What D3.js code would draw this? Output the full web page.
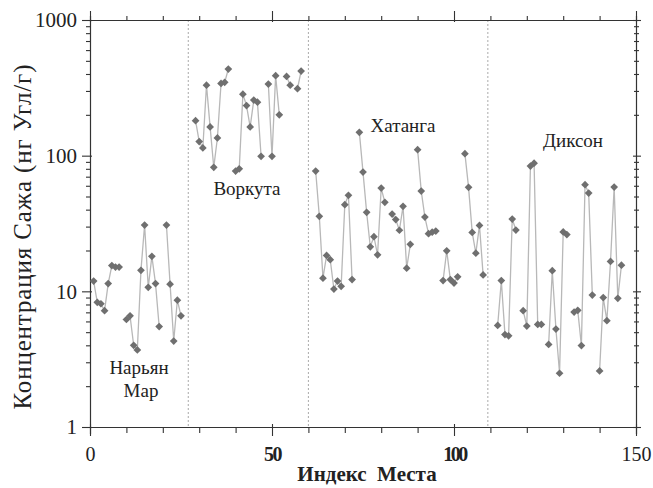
<!DOCTYPE html>
<html><head><meta charset="utf-8">
<script src="https://cdn.jsdelivr.net/npm/d3@7"></script>
<style>
body{margin:0;background:#fff;}
svg{display:block;}
text{font-family:"Liberation Serif","Times New Roman",serif;fill:#222;}
</style></head>
<body><svg id="c" width="653" height="488"></svg>
<script>
// ---- data ----
const naryanIdx = [1,2,3,4,5,6,7,8,10,11,12,13,14,15,16,17,18,19,21,22,23,24,25];
const naryanVal = [11.9,8.3,8.1,7.2,11.4,15.5,15.1,15.1,6.2,6.6,4.0,3.7,14.3,30.8,10.7,18.1,11.4,5.5,30.8,11.3,4.3,8.6,6.6];
const vorkutaIdx = [29,30,31,32,33,34,35,36,37,38,40,41,42,43,44,45,46,47,49,50,51,52,54,55,57,58];
const vorkutaVal = [181,127,114,331,163,82,135,341,347,435,77,80,284,234,163,257,248,99,337,99,389,200,384,331,312,420];
const khatangaIdx = [62,63,64,65,66,67,68,69,70,71,72,74,75,76,77,78,79,80,81,83,84,85,86,87,88,90,91,92,93,94,95,97,98,99,100,101,103,104,105,106,107,108];
const khatangaVal = [77,35.7,12.5,18.4,17.1,10.4,11.9,10.9,43.5,51,12.2,148.6,75.7,38.2,21.3,25.3,18.6,57.7,45.3,37.1,33.8,28.2,42.3,14.8,22.2,110.7,54.8,35.3,26.6,27.3,27.8,12.0,19.9,12.2,11.5,12.8,103.5,58.4,27.2,19.1,30.6,13.2];
const diksonIdx = [112,113,114,115,116,117,119,120,121,122,123,124,126,127,128,129,130,131,133,134,135,136,137,138,140,141,142,143,144,145,146];
const diksonVal = [5.6,12.0,4.8,4.7,34.1,28.3,7.2,5.55,83.8,88.1,5.7,5.7,4.06,14.2,5.27,2.49,27.4,26.2,7.04,7.24,3.98,61.1,53.0,9.39,2.59,9.0,6.08,16.6,58.7,8.88,15.6];
const siteNames = [["Нарьян","Мар"],["Воркута"],["Хатанга"],["Диксон"]];
const separators = [27, 60, 109.3];
const xTickValues = [0,10,20,30,40,50,60,70,80,90,100,110,120,130,140,150];
const xTickLabels = {0:"0",50:"50",100:"100",150:"150"};
const yMajor = [1,10,100,1000];
const xTitle = "Индекс  Места";
const yTitle = "Концентрация Сажа (нг Угл/г)";

const svg = d3.select("#c");
const x = d3.scaleLinear().domain([0,150]).range([90,636]);
const y = d3.scaleLog().domain([1,1000]).range([427,20]);

const yMinor = [];
for (let d=1; d<1000; d*=10) for (let k=2;k<10;k++) yMinor.push(k*d);

// separators
svg.selectAll("line.sep").data(separators).join("line")
  .attr("x1",d=>x(d)).attr("x2",d=>x(d)).attr("y1",y(1000)).attr("y2",y(1))
  .attr("stroke","#aaa").attr("stroke-width",1).attr("stroke-dasharray","2,2");

// axes
function styleAxis(g){ g.select(".domain").attr("stroke","#333").attr("stroke-width",1.2); g.selectAll(".tick line").attr("stroke","#333").attr("stroke-width",1.1); }
const fmtX = d => xTickLabels[d] !== undefined ? xTickLabels[d] : "";
const gB = svg.append("g").attr("transform",`translate(0,${y(1)})`)
  .call(d3.axisBottom(x).tickValues(xTickValues).tickSize(7).tickPadding(13).tickFormat(fmtX));
styleAxis(gB);
gB.selectAll(".tick line").attr("y1",d=>d%50===0?-3:0).attr("y2",d=>d%50===0?9:6);
gB.selectAll(".tick text").attr("font-size",20).attr("fill","#222").attr("font-family","Liberation Serif, serif")
  .attr("font-weight",d=>(d===50||d===100)?"bold":"normal")
  .attr("letter-spacing",d=>d===50?-1.5:(d===100?-2.5:0));

const gT = svg.append("g").attr("transform",`translate(0,${y(1000)})`)
  .call(d3.axisTop(x).tickValues(xTickValues).tickSize(4).tickFormat(""));
styleAxis(gT);
gT.selectAll(".tick line").attr("y1",d=>d%50===0?2:1).attr("y2",d=>d%50===0?-9:-4);

const gL = svg.append("g").attr("transform",`translate(${x(0)},0)`)
  .call(d3.axisLeft(y).tickValues(yMajor).tickSize(8).tickPadding(5).tickFormat(d3.format("d")));
styleAxis(gL);
gL.selectAll(".tick line").attr("x2",-8).attr("x1",2);
gL.selectAll(".tick text").attr("font-size",21).attr("fill","#222").attr("font-family","Liberation Serif, serif");
const gLm = svg.append("g").attr("transform",`translate(${x(0)},0)`)
  .call(d3.axisLeft(y).tickValues(yMinor).tickSize(4).tickFormat(""));
styleAxis(gLm); gLm.select(".domain").remove();
gLm.selectAll(".tick line").attr("x1",1);

const gR = svg.append("g").attr("transform",`translate(${x(150)},0)`)
  .call(d3.axisRight(y).tickValues(yMajor).tickSize(5).tickFormat(""));
styleAxis(gR);
gR.selectAll(".tick line").attr("x1",-3);
const gRm = svg.append("g").attr("transform",`translate(${x(150)},0)`)
  .call(d3.axisRight(y).tickValues(yMinor).tickSize(3).tickFormat(""));
styleAxis(gRm); gRm.select(".domain").remove();
gRm.selectAll(".tick line").attr("x1",-2);

// series
const sites = [[naryanIdx,naryanVal],[vorkutaIdx,vorkutaVal],[khatangaIdx,khatangaVal],[diksonIdx,diksonVal]];
const line = d3.line().x(d=>x(d[0])).y(d=>y(d[1]));
const sym = d3.symbol().type(d3.symbolSquare).size(30);
sites.forEach(([idx,val])=>{
  const pts = idx.map((i,k)=>[i,val[k]]);
  // split into runs of consecutive indices
  const runs = []; let cur = [];
  pts.forEach((p,k)=>{ if(k>0 && p[0]-pts[k-1][0]>1){ runs.push(cur); cur=[]; } cur.push(p); });
  runs.push(cur);
  runs.forEach(r=>{
    svg.append("path").datum(r).attr("d",line).attr("fill","none").attr("stroke","#b8b8b8").attr("stroke-width",1.3);
  });
  svg.append("g").selectAll("path").data(pts).join("path")
    .attr("d",sym).attr("fill","#6f6f6f")
    .attr("transform",d=>`translate(${x(d[0])},${y(d[1])}) rotate(45)`);
});

// site labels
const labelPos = [[139,374],[247,195],[403,132],[573,147]];
siteNames.forEach((lines,k)=>{
  lines.forEach((t,j)=>{
    svg.append("text").attr("x",labelPos[k][0]+(j?2:0)).attr("y",labelPos[k][1]+j*23)
      .attr("text-anchor","middle").attr("font-size",19).text(t);
  });
});

// titles
svg.append("text").attr("x",367).attr("y",481).attr("text-anchor","middle")
  .attr("font-size",21).attr("font-weight","bold").attr("xml:space","preserve").text(xTitle);
svg.append("text").attr("transform","translate(31,237) rotate(-90)").attr("text-anchor","middle")
  .attr("font-size",25).attr("textLength",345).attr("lengthAdjust","spacing").text(yTitle);
</script></body></html>
